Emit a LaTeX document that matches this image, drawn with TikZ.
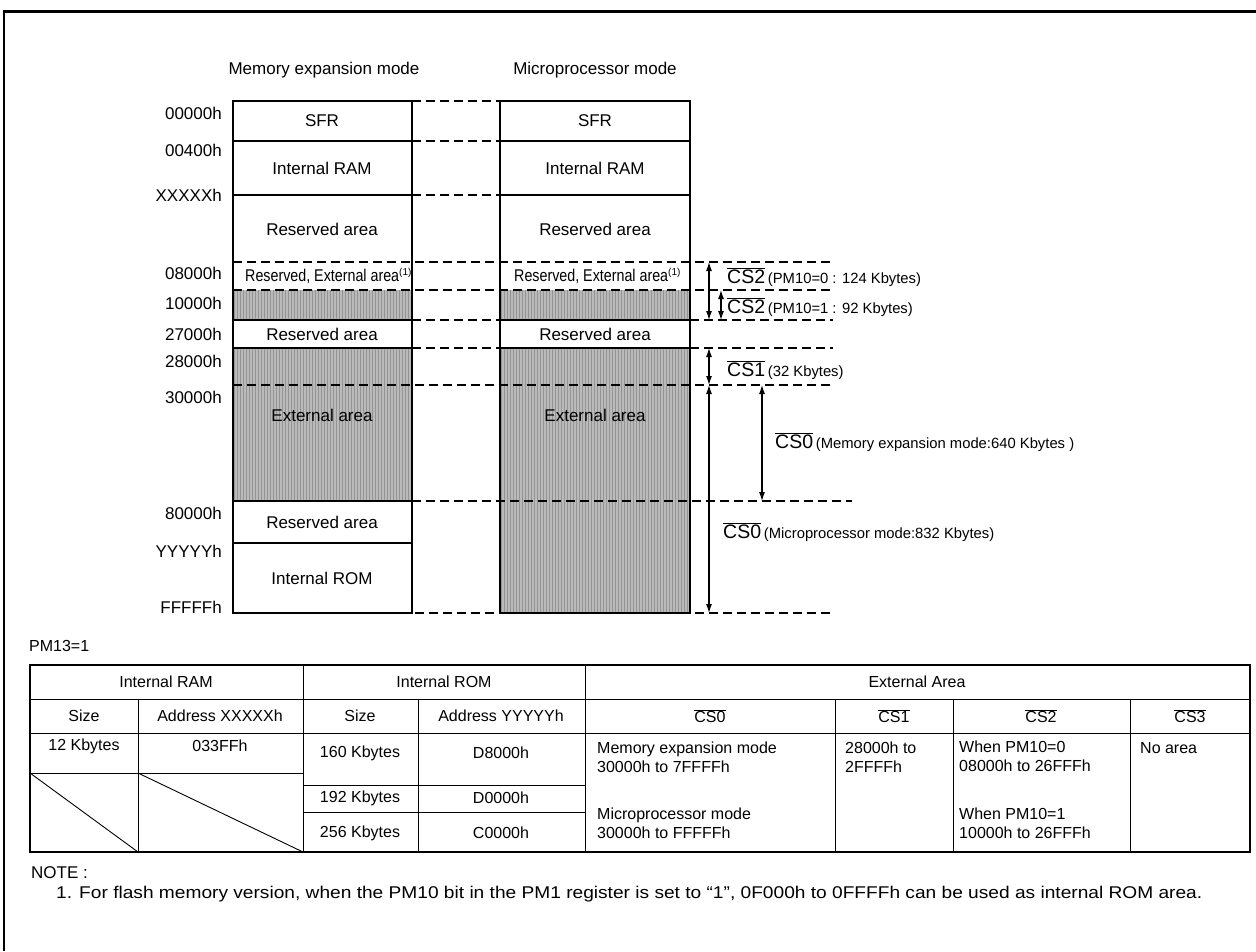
\documentclass[tikz,border=0pt]{standalone}
\usepackage{fontspec}
\setmainfont{Liberation Sans}
\usepackage{graphicx}
\usetikzlibrary{arrows.meta,patterns}
\newcommand\ovl[1]{$\overline{\mbox{#1}}$}
\begin{document}
\begin{tikzpicture}[x=1pt,y=-1pt,
  txt/.style={font=\fontsize{17}{20}\selectfont, inner sep=0pt},
  addr/.style={txt, anchor=east},
  ttxt/.style={font=\fontsize{16}{19}\selectfont, inner sep=0pt},
  lt/.style={ttxt, anchor=west, align=left},
  cslbl/.style={anchor=west, inner sep=0pt},
  dsh/.style={line width=1.6pt, dash pattern=on 9pt off 5pt},
  solidline/.style={line width=1.1pt},
  tline/.style={line width=0.9pt},
  dbl/.style={line width=1.1pt, {Latex[length=9pt,width=6pt]}-{Latex[length=9pt,width=6pt]}},
]
\useasboundingbox (0,0) rectangle (1256,951);
% frame
\draw[line width=3pt] (3,11) -- (1256,11);
\draw[line width=2pt] (4,11) -- (4,951);

% shading
\foreach \a/\b/\c/\d in {233/290/412/320, 233/348/412/501, 500/290/690/320, 500/348/690/613}{
  \fill[black!27] (\a,\b) rectangle (\c,\d);
  \fill[pattern=vertical lines, pattern color=black!42] (\a,\b) rectangle (\c,\d);
}

% titles
\node[txt] (t1) at (324,70) {Memory expansion mode};
\node[txt] (t2) at (595,70) {Microprocessor mode};

% boxes
\draw[solidline] (233,101) rectangle (412,613);
\draw[solidline] (500,101) rectangle (690,613);
\foreach \y in {141,195,320,348,501,543} \draw[solidline] (233,\y) -- (412,\y);
\foreach \y in {141,195,320,348} \draw[solidline] (500,\y) -- (690,\y);

% dashed levels
\foreach \y in {101,141,195} \draw[dsh] (412,\y) -- (500,\y);
\foreach \y in {262,290,385,613} \draw[dsh] (233,\y) -- (833,\y);
\foreach \y in {320,348} {\draw[dsh] (412,\y) -- (500,\y); \draw[dsh] (690,\y) -- (833,\y);}
\draw[dsh] (412,501) -- (852,501);

% box labels
\foreach \x/\n in {322/L,595/R}{
  \node[txt] (sfr\n) at (\x,121) {SFR};
  \node[txt] (ram\n) at (\x,168) {Internal RAM};
  \node[txt] (res\n) at (\x,229) {Reserved area};
  \node[txt] (resb\n) at (\x,334) {Reserved area};
  \node[txt] (ext\n) at (\x,415) {External area};
}
\node[txt, anchor=west] (rexL) at (245,276) {\scalebox{0.84}[1]{Reserved, External area}\raisebox{0.6ex}{\fontsize{10}{10}\selectfont(1)}};
\node[txt, anchor=west] (rexR) at (514,276) {\scalebox{0.84}[1]{Reserved, External area}\raisebox{0.6ex}{\fontsize{10}{10}\selectfont(1)}};
\node[txt] (resc) at (322,522) {Reserved area};
\node[txt] (rom) at (322,578) {Internal ROM};

% addresses
\node[addr] (a0) at (222,113) {00000h};
\node[addr] (a1) at (222,150) {00400h};
\node[addr] (a2) at (222,195) {XXXXXh};
\node[addr] (a3) at (222,273) {08000h};
\node[addr] (a4) at (222,303) {10000h};
\node[addr] (a5) at (222,334) {27000h};
\node[addr] (a6) at (222,361) {28000h};
\node[addr] (a7) at (222,397) {30000h};
\node[addr] (a8) at (222,513) {80000h};
\node[addr] (a9) at (222,551) {YYYYYh};
\node[addr] (a10) at (222,607) {FFFFFh};

% arrows
\coordinate (p262) at (709,262);
\coordinate (p320) at (709,320);
\coordinate (q290) at (721,290);
\coordinate (q320) at (721,320);
\coordinate (p348) at (709,348);
\coordinate (p385) at (709,385);
\coordinate (p613) at (709,613);
\coordinate (m385) at (762,385);
\coordinate (m501) at (762,501);
\draw[dbl] (p262) -- (p320);
\draw[dbl] (q290) -- (q320);
\draw[dbl] (p348) -- (p385);
\draw[dbl] (p385) -- (p613);
\draw[dbl] (m385) -- (m501);

\node[cslbl] (c2a) at (727,277) {{\fontsize{19.5}{21}\selectfont\ovl{CS2}} {\fontsize{14.8}{16}\selectfont(PM10=0 : 124 Kbytes)}};
\node[cslbl] (c2b) at (727,307) {{\fontsize{19.5}{21}\selectfont\ovl{CS2}} {\fontsize{14.8}{16}\selectfont(PM10=1 : 92 Kbytes)}};
\node[cslbl] (c1) at (727,370) {{\fontsize{19.5}{21}\selectfont\ovl{CS1}} {\fontsize{14.8}{16}\selectfont(32 Kbytes)}};
\node[cslbl] (c0a) at (775,442) {{\fontsize{19.5}{21}\selectfont\ovl{CS0}} {\fontsize{14.8}{16}\selectfont(Memory expansion mode:640 Kbytes )}};
\node[cslbl] (c0b) at (723,532) {{\fontsize{19.5}{21}\selectfont\ovl{CS0}} {\fontsize{14.8}{16}\selectfont(Microprocessor mode:832 Kbytes)}};

% table
\node[ttxt, anchor=west] (pm) at (29,646) {PM13=1};
\draw[line width=1.6pt] (30,665) rectangle (1250,852);
\draw[tline] (30,699) -- (1250,699);
\draw[tline] (30,733) -- (1250,733);
\draw[tline] (30,773) -- (303,773);
\draw[tline] (303,785) -- (585,785);
\draw[tline] (303,812) -- (585,812);
\draw[tline] (303,665) -- (303,852);
\draw[tline] (585,665) -- (585,852);
\foreach \x in {138,418,835,953,1130} \draw[tline] (\x,699) -- (\x,852);
\draw[tline] (30,773) -- (138,852);
\draw[tline] (138,773) -- (303,852);

\node[ttxt] (h1) at (166,682) {Internal RAM};
\node[ttxt] (h2) at (444,682) {Internal ROM};
\node[ttxt] (h3) at (917,682) {External Area};
\node[ttxt] (s1) at (84,716) {Size};
\node[ttxt] (s2) at (220,716) {Address XXXXXh};
\node[ttxt] (s3) at (360,716) {Size};
\node[ttxt] (s4) at (501,716) {Address YYYYYh};
\node[ttxt] (s5) at (710,716) {\ovl{CS0}};
\node[ttxt] (s6) at (894,716) {\ovl{CS1}};
\node[ttxt] (s7) at (1041,716) {\ovl{CS2}};
\node[ttxt] (s8) at (1190,716) {\ovl{CS3}};
\node[ttxt] (r1) at (84,746) {12 Kbytes};
\node[ttxt] (r2) at (220,746) {033FFh};
\node[ttxt] (r3) at (360,753) {160 Kbytes};
\node[ttxt] (r4) at (501,753) {D8000h};
\node[ttxt] (r5) at (360,798) {192 Kbytes};
\node[ttxt] (r6) at (501,798) {D0000h};
\node[ttxt] (r7) at (360,833) {256 Kbytes};
\node[ttxt] (r8) at (501,833) {C0000h};
\node[lt] (e1) at (597,757) {Memory expansion mode\\30000h to 7FFFFh};
\node[lt] (e2) at (597,823) {Microprocessor mode\\30000h to FFFFFh};
\node[lt] (e3) at (845,757) {28000h to\\2FFFFh};
\node[lt] (e4) at (959,756) {When PM10=0\\08000h to 26FFFh};
\node[lt] (e5) at (959,823) {When PM10=1\\10000h to 26FFFh};
\node[ttxt, anchor=west] (e6) at (1140,748) {No area};

\node[txt, anchor=west] (n1) at (31,873) {NOTE :};
\node[txt, anchor=west] (n2) at (56,894) {\resizebox{1146pt}{\height}{1. For flash memory version, when the PM10 bit in the PM1 register is set to “1”, 0F000h to 0FFFFh can be used as internal ROM area.}};
\end{tikzpicture}
\end{document}
